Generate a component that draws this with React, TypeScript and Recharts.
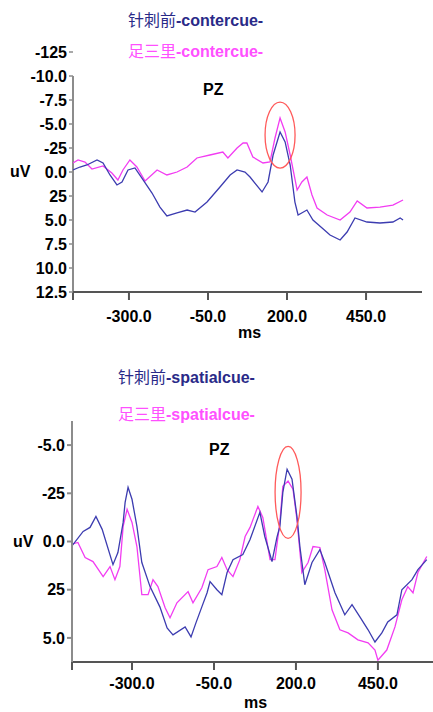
import React from "react";
import {
  LineChart,
  Line,
  XAxis,
  YAxis,
  ReferenceDot,
  ReferenceLine,
} from "recharts";

// top panel: contercue (ms, uV)
const contBefore = [
  { t: -477, v: -0.21 }, { t: -455, v: -0.52 }, { t: -433, v: -0.73 }, { t: -401, v: -1.25 },
  { t: -382, v: -0.94 }, { t: -360, v: 0.31 }, { t: -338, v: 1.35 }, { t: -322, v: 1.04 },
  { t: -303, v: -0.21 }, { t: -281, v: -0.42 }, { t: -259, v: 0.63 }, { t: -227, v: 2.19 },
  { t: -202, v: 3.65 }, { t: -180, v: 4.58 }, { t: -148, v: 4.27 }, { t: -116, v: 3.96 },
  { t: -91, v: 4.17 }, { t: -53, v: 3.13 }, { t: -12, v: 1.56 }, { t: 20, v: 0.31 },
  { t: 42, v: -0.21 }, { t: 67, v: 0 }, { t: 83, v: 0.52 }, { t: 121, v: 2.08 },
  { t: 140, v: 1.04 }, { t: 156, v: -1.77 }, { t: 178, v: -4.17 }, { t: 194, v: -3.13 },
  { t: 210, v: -0.73 }, { t: 225, v: 3.13 }, { t: 235, v: 4.48 }, { t: 263, v: 3.96 },
  { t: 282, v: 5.0 }, { t: 311, v: 5.83 }, { t: 336, v: 6.56 }, { t: 368, v: 7.08 },
  { t: 390, v: 6.25 }, { t: 415, v: 4.79 }, { t: 453, v: 5.21 }, { t: 494, v: 5.31 },
  { t: 535, v: 5.21 }, { t: 558, v: 4.79 }, { t: 567, v: 5.0 },
];

const contZusanli = [
  { t: -477, v: -0.94 }, { t: -461, v: -1.25 }, { t: -439, v: -1.04 }, { t: -417, v: -0.31 },
  { t: -382, v: -0.63 }, { t: -354, v: 0.1 }, { t: -335, v: 0.83 }, { t: -319, v: -0.21 },
  { t: -297, v: -1.25 }, { t: -275, v: -0.52 }, { t: -249, v: 0.94 }, { t: -211, v: -0.21 },
  { t: -180, v: 0.31 }, { t: -148, v: 0 }, { t: -116, v: -0.52 }, { t: -85, v: -1.46 },
  { t: -44, v: -1.77 }, { t: -3, v: -2.08 }, { t: 13, v: -1.46 }, { t: 42, v: -2.5 },
  { t: 61, v: -3.02 }, { t: 73, v: -3.02 }, { t: 92, v: -1.56 }, { t: 124, v: -0.94 },
  { t: 146, v: -1.04 }, { t: 162, v: -3.54 }, { t: 178, v: -5.63 }, { t: 194, v: -4.17 },
  { t: 210, v: -1.77 }, { t: 232, v: 1.88 }, { t: 247, v: 1.04 }, { t: 263, v: 0.52 },
  { t: 279, v: 2.4 }, { t: 295, v: 3.75 }, { t: 327, v: 4.48 }, { t: 368, v: 5.0 },
  { t: 399, v: 4.17 }, { t: 422, v: 3.02 }, { t: 453, v: 3.75 }, { t: 494, v: 3.65 },
  { t: 535, v: 3.44 }, { t: 567, v: 2.92 },
];

// bottom panel: spatialcue (ms, uV)
const spatBefore = [
  { t: -489, v: 0.31 }, { t: -480, v: 0.16 }, { t: -449, v: -0.52 }, { t: -428, v: -0.73 },
  { t: -410, v: -1.3 }, { t: -391, v: -0.63 }, { t: -358, v: 1.2 }, { t: -343, v: 0.57 },
  { t: -327, v: -0.99 }, { t: -321, v: -2.03 }, { t: -312, v: -2.81 }, { t: -300, v: -2.19 },
  { t: -285, v: -0.78 }, { t: -270, v: 1.09 }, { t: -245, v: 2.34 }, { t: -215, v: 3.39 },
  { t: -193, v: 4.48 }, { t: -175, v: 4.84 }, { t: -138, v: 4.43 }, { t: -120, v: 4.95 },
  { t: -105, v: 4.22 }, { t: -87, v: 3.39 }, { t: -71, v: 2.66 }, { t: -62, v: 2.08 },
  { t: -41, v: 2.5 }, { t: -26, v: 2.76 }, { t: -10, v: 1.61 }, { t: 8, v: 0.94 },
  { t: 38, v: 0.68 }, { t: 60, v: -0.1 }, { t: 90, v: -1.51 }, { t: 105, v: -0.26 },
  { t: 127, v: 1.04 }, { t: 142, v: -0.21 }, { t: 151, v: -0.78 }, { t: 160, v: -2.55 },
  { t: 173, v: -3.75 }, { t: 188, v: -3.23 }, { t: 203, v: -1.3 }, { t: 212, v: 0.26 },
  { t: 227, v: 2.24 }, { t: 249, v: 1.09 }, { t: 273, v: 0.42 }, { t: 288, v: 1.09 },
  { t: 319, v: 2.66 }, { t: 349, v: 3.8 }, { t: 371, v: 3.28 }, { t: 395, v: 3.91 },
  { t: 420, v: 4.58 }, { t: 441, v: 5.21 }, { t: 462, v: 4.74 }, { t: 480, v: 4.17 },
  { t: 508, v: 3.8 }, { t: 523, v: 2.5 }, { t: 554, v: 1.98 }, { t: 572, v: 1.46 },
  { t: 599, v: 0.94 },
];

const spatZusanli = [
  { t: -489, v: 0.16 }, { t: -465, v: 0.05 }, { t: -443, v: 0.83 }, { t: -419, v: 1.04 },
  { t: -388, v: 1.82 }, { t: -367, v: 1.3 }, { t: -352, v: 1.98 }, { t: -337, v: 1.3 },
  { t: -327, v: -0.78 }, { t: -315, v: -1.67 }, { t: -300, v: -0.99 }, { t: -285, v: 0.26 },
  { t: -270, v: 2.76 }, { t: -251, v: 2.76 }, { t: -236, v: 1.98 }, { t: -221, v: 2.34 },
  { t: -199, v: 3.44 }, { t: -184, v: 3.96 }, { t: -163, v: 3.18 }, { t: -129, v: 2.6 },
  { t: -114, v: 3.18 }, { t: -87, v: 2.4 }, { t: -68, v: 1.46 }, { t: -41, v: 1.3 },
  { t: -26, v: 0.83 }, { t: -10, v: 1.46 }, { t: 8, v: 1.82 }, { t: 29, v: 0.94 },
  { t: 45, v: -0.26 }, { t: 60, v: -0.73 }, { t: 84, v: -1.82 }, { t: 99, v: -1.25 },
  { t: 121, v: 0.94 }, { t: 136, v: 0.94 }, { t: 151, v: -0.99 }, { t: 160, v: -2.86 },
  { t: 176, v: -3.13 }, { t: 191, v: -2.71 }, { t: 203, v: -1.15 }, { t: 218, v: 1.61 },
  { t: 237, v: 1.09 }, { t: 252, v: 0.26 }, { t: 273, v: 0.31 }, { t: 288, v: 1.46 },
  { t: 310, v: 3.54 }, { t: 334, v: 4.58 }, { t: 359, v: 4.74 }, { t: 389, v: 5.1 },
  { t: 420, v: 5.26 }, { t: 441, v: 5.63 }, { t: 450, v: 6.15 }, { t: 477, v: 5.63 },
  { t: 502, v: 4.43 }, { t: 523, v: 3.02 }, { t: 541, v: 2.34 }, { t: 557, v: 2.66 },
  { t: 572, v: 1.61 }, { t: 599, v: 0.78 },
];

const topXTicks = [-477, -300, -50, 200, 450];
const botXTicks = [-483, -300, -50, 200, 450];
const xLabels = ["", "-300.0", "-50.0", "200.0", "450.0"];

const topYTicks = [-12.5, -10, -7.5, -5, -2.5, 0, 2.5, 5, 7.5, 10, 12.5];
const topYLabels = ["-125", "-10.0", "-7.5", "-5.0", "-25", "0.0", "25", "5.0", "7.5", "10.0", "12.5"];
const botYTicks = [-5, -2.5, 0, 2.5, 5];
const botYLabels = ["-5.0", "-25", "0.0", "25", "5.0"];

// circled peaks (ms, uV)
const topPeak = { t: 178, v: -3.85 };
const botPeak = { t: 176, v: -2.55 };

const NAVY_LINE = "#3c3cb0";
const NAVY_TEXT = "#2a2a88";
const MAGENTA = "#f23cf2";
const MAGENTA_TEXT = "#ff50ff";
const AXIS = "#8c8c8c";
const FONT = "'Liberation Sans', Arial, 'Noto Sans CJK SC', sans-serif";

const tickFont = { fill: "#000", fontSize: 16, fontWeight: "bold", fontFamily: FONT };

function makeXTick(dy: number) {
  return (props: any) => (
    <text
      x={props.x}
      y={props.y}
      dy={dy}
      textAnchor="middle"
      fontSize={16}
      fontWeight="bold"
      fontFamily={FONT}
      fill="#000"
    >
      {xLabels[props.index]}
    </text>
  );
}

const ellipse = (rx: number, ry: number) => (p: any) => (
  <ellipse cx={p.cx} cy={p.cy} rx={rx} ry={ry} fill="none" stroke="#ff5a5a" strokeWidth={1.3} />
);

const abs = (left: number, top: number, extra: React.CSSProperties = {}): React.CSSProperties => ({
  position: "absolute",
  left,
  top,
  fontFamily: FONT,
  fontSize: 16,
  lineHeight: "20px",
  whiteSpace: "nowrap",
  ...extra,
});

export default function App() {
  return (
    <div style={{ position: "absolute", left: 0, top: 0, width: 433, height: 712, background: "#fff", overflow: "hidden" }}>
      <div style={abs(128, 11, { color: NAVY_TEXT })}>
        <span>针刺前</span><b>-contercue-</b>
      </div>
      <div style={abs(128, 42, { color: MAGENTA_TEXT })}>
        <span>足三里</span><b>-contercue-</b>
      </div>

      <div style={{ position: "absolute", left: 0, top: 0 }}>
        <LineChart width={433} height={345} margin={{ top: 52, right: 11, left: 0, bottom: 23 }}>
          <XAxis
            type="number"
            dataKey="t"
            domain={[-477, 627]}
            ticks={topXTicks}
            allowDataOverflow
            height={30}
            stroke="#555"
            strokeWidth={2}
            tickSize={8}
            tickMargin={2}
            tick={makeXTick(20)}
          />
          <YAxis
            type="number"
            dataKey="v"
            reversed
            domain={[-12.5, 12.5]}
            ticks={topYTicks}
            allowDataOverflow
            width={73}
            axisLine={false}
            tickLine={{ stroke: AXIS, strokeWidth: 1.5 }}
            tickSize={4}
            tickMargin={2}
            tick={tickFont}
            tickFormatter={(_v: number, i: number) => topYLabels[i]}
          />
          <ReferenceLine
            segment={[{ x: -477, y: -10 }, { x: -477, y: 12.5 }]}
            stroke={AXIS}
            strokeWidth={2}
          />
          <Line data={contZusanli} dataKey="v" type="linear" stroke={MAGENTA} strokeWidth={1.3} dot={false} isAnimationActive={false} />
          <Line data={contBefore} dataKey="v" type="linear" stroke={NAVY_LINE} strokeWidth={1.3} dot={false} isAnimationActive={false} />
          <ReferenceDot x={topPeak.t} y={topPeak.v} r={1} shape={ellipse(15, 33)} />
        </LineChart>
      </div>

      <div style={abs(10, 162, { fontWeight: "bold" })}>uV</div>
      <div style={abs(203, 80, { fontWeight: "bold" })}>PZ</div>
      <div style={abs(238, 323, { fontWeight: "bold" })}>ms</div>

      <div style={abs(118, 368, { color: NAVY_TEXT })}>
        <span>针刺前</span><b>-spatialcue-</b>
      </div>
      <div style={abs(118, 405, { color: MAGENTA_TEXT })}>
        <span>足三里</span><b>-spatialcue-</b>
      </div>

      <div style={{ position: "absolute", left: 0, top: 400 }}>
        <LineChart width={433} height={312} margin={{ top: 21, right: 0, left: 0, bottom: 20 }}>
          <XAxis
            type="number"
            dataKey="t"
            domain={[-483, 618]}
            ticks={botXTicks}
            allowDataOverflow
            height={30}
            stroke="#555"
            strokeWidth={2}
            tickSize={8}
            tickMargin={2}
            tick={makeXTick(17)}
          />
          <YAxis
            type="number"
            dataKey="v"
            reversed
            domain={[-6.25, 6.25]}
            ticks={botYTicks}
            allowDataOverflow
            width={72}
            stroke={AXIS}
            strokeWidth={2}
            tickSize={5}
            tickMargin={2}
            tick={tickFont}
            tickFormatter={(_v: number, i: number) => botYLabels[i]}
          />
          <Line data={spatZusanli} dataKey="v" type="linear" stroke={MAGENTA} strokeWidth={1.3} dot={false} isAnimationActive={false} />
          <Line data={spatBefore} dataKey="v" type="linear" stroke={NAVY_LINE} strokeWidth={1.3} dot={false} isAnimationActive={false} />
          <ReferenceDot x={botPeak.t} y={botPeak.v} r={1} shape={ellipse(13, 46)} />
        </LineChart>
      </div>

      <div style={abs(13, 532, { fontWeight: "bold" })}>uV</div>
      <div style={abs(209, 440, { fontWeight: "bold" })}>PZ</div>
      <div style={abs(244, 693, { fontWeight: "bold" })}>ms</div>
    </div>
  );
}
